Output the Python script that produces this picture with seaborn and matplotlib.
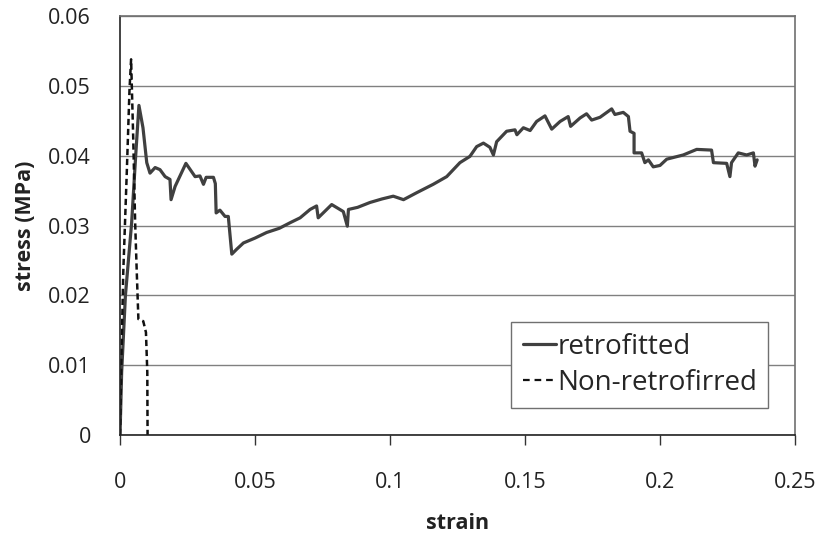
import numpy as np
import pandas as pd
import matplotlib
matplotlib.use("Agg")
import matplotlib.pyplot as plt
import seaborn as sns

# retrofitted specimen (strain, stress MPa)
retro_strain = [0.0, 0.0006, 0.0020, 0.0043, 0.0058, 0.0070, 0.0085, 0.0099, 0.0111, 0.0130,
                0.0148, 0.0167, 0.0185, 0.0189, 0.0204, 0.0244, 0.0278, 0.0296, 0.0309, 0.0319,
                0.0346, 0.0353, 0.0356, 0.0370, 0.0389, 0.0401, 0.0414, 0.0432, 0.0457, 0.0500,
                0.0543, 0.0590, 0.0630, 0.0667, 0.0704, 0.0728, 0.0734, 0.0784, 0.0827, 0.0842,
                0.0846, 0.0880, 0.0926, 0.0970, 0.1012, 0.1050, 0.1099, 0.1160, 0.1210, 0.1259,
                0.1296, 0.1321, 0.1346, 0.1370, 0.1383, 0.1395, 0.1432, 0.1463, 0.1470, 0.1494,
                0.1519, 0.1543, 0.1574, 0.1599, 0.1630, 0.1660, 0.1669, 0.1704, 0.1728, 0.1747,
                0.1778, 0.1821, 0.1833, 0.1864, 0.1883, 0.1889, 0.1904, 0.1904, 0.1932, 0.1944,
                0.1957, 0.1975, 0.2000, 0.2025, 0.2086, 0.2136, 0.2191, 0.2198, 0.2247, 0.2259,
                0.2265, 0.2290, 0.2321, 0.2346, 0.2352, 0.2360]
retro_stress = [0.0, 0.0090, 0.0200, 0.0304, 0.0400, 0.0472, 0.0440, 0.0390, 0.0375, 0.0383,
                0.0380, 0.0370, 0.0366, 0.0337, 0.0356, 0.0389, 0.0370, 0.0371, 0.0359, 0.0369,
                0.0369, 0.0360, 0.0318, 0.0322, 0.0313, 0.0313, 0.0259, 0.0266, 0.0275, 0.0282,
                0.0290, 0.0296, 0.0304, 0.0311, 0.0323, 0.0328, 0.0311, 0.0330, 0.0320, 0.0299,
                0.0323, 0.0326, 0.0333, 0.0338, 0.0342, 0.0337, 0.0347, 0.0359, 0.0370, 0.0390,
                0.0399, 0.0413, 0.0418, 0.0412, 0.0401, 0.0420, 0.0435, 0.0437, 0.0430, 0.0440,
                0.0436, 0.0449, 0.0457, 0.0438, 0.0449, 0.0456, 0.0442, 0.0454, 0.0460, 0.0451,
                0.0455, 0.0467, 0.0459, 0.0462, 0.0456, 0.0435, 0.0432, 0.0404, 0.0404, 0.0390,
                0.0394, 0.0384, 0.0386, 0.0395, 0.0401, 0.0409, 0.0408, 0.0390, 0.0389, 0.0370,
                0.0390, 0.0404, 0.0401, 0.0404, 0.0385, 0.0394]

# non-retrofitted specimen
plain_strain = [0.0, 0.0004, 0.0012, 0.0025, 0.0035, 0.0041, 0.0049, 0.0056, 0.0062, 0.0068,
                0.0086, 0.0096, 0.0101, 0.0102]
plain_stress = [0.0, 0.0090, 0.0233, 0.0376, 0.0494, 0.0538, 0.0423, 0.0304, 0.0233, 0.0166,
                0.0163, 0.0147, 0.0090, 0.0]

x_ticks = [0, 0.05, 0.1, 0.15, 0.2, 0.25]
x_labels = ["0", "0.05", "0.1", "0.15", "0.2", "0.25"]
y_ticks = [0, 0.01, 0.02, 0.03, 0.04, 0.05, 0.06]
y_labels = ["0", "0.01", "0.02", "0.03", "0.04", "0.05", "0.06"]

df = pd.concat([
    pd.DataFrame({"strain": retro_strain, "stress": retro_stress, "specimen": "retrofitted"}),
    pd.DataFrame({"strain": plain_strain, "stress": plain_stress, "specimen": "Non-retrofirred"}),
])

sns.set_style("white")
plt.rcParams["font.family"] = ["Open Sans", "DejaVu Sans"]

fig = plt.figure(figsize=(8.21, 5.34), dpi=100)
ax = fig.add_axes([0.1462, 0.1854, 0.8221, 0.7846])

sns.lineplot(data=df, x="strain", y="stress", hue="specimen", style="specimen",
             palette={"retrofitted": "#404040", "Non-retrofirred": "#111111"},
             dashes={"retrofitted": "", "Non-retrofirred": (2.5, 1.5)},
             sort=False, estimator=None, ax=ax)
ax.lines[0].set_linewidth(2.3)
ax.lines[1].set_linewidth(1.8)

ax.set_xlim(0, 0.25)
ax.set_ylim(0, 0.06)
ax.set_xticks(x_ticks)
ax.set_xticklabels(x_labels)
ax.set_yticks(y_ticks)
ax.set_yticklabels(y_labels)
ax.yaxis.grid(True, color="#808080", linewidth=1.0)
ax.xaxis.grid(False)
ax.tick_params(axis="x", direction="out", length=7, width=1, color="#333333",
               labelsize=15.5, pad=20, bottom=True, labelcolor="#222222")
ax.tick_params(axis="y", length=0, labelsize=15.5, pad=21, labelcolor="#222222")
for side in ["top", "right"]:
    ax.spines[side].set_color("#707070")
    ax.spines[side].set_linewidth(1.2)
for side in ["left", "bottom"]:
    ax.spines[side].set_color("#222222")
    ax.spines[side].set_linewidth(1.2)

ax.set_xlabel("strain", fontsize=15.5, fontweight="bold", labelpad=14, color="#222222")
ax.set_ylabel("stress (MPa)", fontsize=15.5, fontweight="bold", labelpad=9, color="#222222")

handles, labels = ax.get_legend_handles_labels()
leg = ax.legend(handles, labels, loc="lower left", bbox_to_anchor=(0.58, 0.064),
                borderaxespad=0, fontsize=20, handlelength=1.2, handletextpad=0.05,
                frameon=True, fancybox=False, framealpha=1, edgecolor="#707070",
                borderpad=0.4, labelspacing=0.3)
leg.get_frame().set_linewidth(1.0)
leg_lines = leg.get_lines()
leg_lines[0].set_linewidth(2.3)
leg_lines[1].set_linewidth(1.6)
leg_lines[1].set_dashes((3, 2.2))

fig.savefig("out.png", dpi=100)
